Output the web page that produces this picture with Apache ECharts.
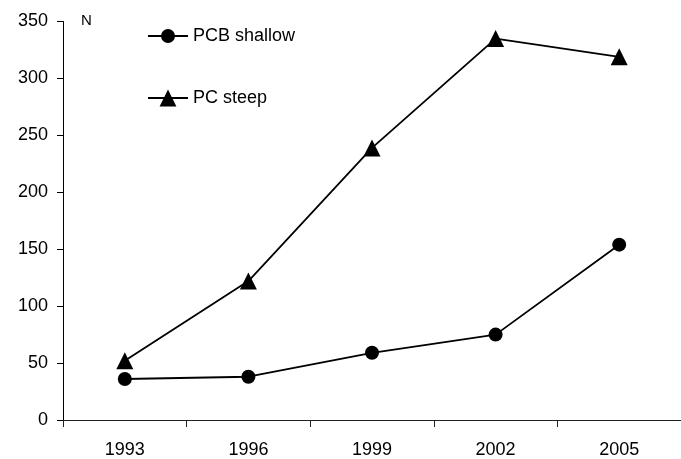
<!DOCTYPE html>
<html><head><meta charset="utf-8">
<script src="https://cdn.jsdelivr.net/npm/echarts@6/dist/echarts.min.js"></script>
<style>html,body{margin:0;padding:0;background:#fff}#c{width:681px;height:459px}</style>
</head><body><div id="c"></div>
<script>
const years = ['1993','1996','1999','2002','2005'];
const pcbShallow = [36, 38, 59, 75, 154];
const pcSteep = [52, 122, 239, 335, 319];
const yTicks = {min: 0, max: 350, interval: 50};

const chart = echarts.init(document.getElementById('c'), null, {renderer: 'canvas'});
const font = 'Arial, "Liberation Sans", sans-serif';
const legendText = {fontFamily: font, fontSize: 18, color: '#000'};
chart.setOption({
  animation: false,
  backgroundColor: '#fff',
  grid: {left: 63, right: -8, top: 21.5, bottom: 37.5, containLabel: false},
  legend: [
    {orient: 'vertical', left: 147, top: 27, padding: 0, itemWidth: 40, itemHeight: 17.5,
     textStyle: legendText, data: ['PCB shallow']},
    {orient: 'vertical', left: 147, top: 89, padding: 0, itemWidth: 40, itemHeight: 21,
     textStyle: legendText, data: ['PC steep']}
  ],
  xAxis: {
    type: 'category', data: years, boundaryGap: true,
    axisLine: {lineStyle: {color: '#222', width: 1}},
    axisTick: {show: true, length: 7, inside: false, lineStyle: {color: '#222'}},
    axisLabel: {fontFamily: font, fontSize: 18, color: '#000', margin: 21}
  },
  yAxis: {
    type: 'value', min: yTicks.min, max: yTicks.max, interval: yTicks.interval,
    name: 'N', nameLocation: 'end', nameGap: 1,
    nameTextStyle: {fontFamily: font, fontSize: 15, color: '#000', align: 'left', verticalAlign: 'middle', padding: [0,0,0,18]},
    splitLine: {show: false},
    axisLine: {show: true, lineStyle: {color: '#000', width: 1}},
    axisTick: {show: true, length: 6, lineStyle: {color: '#000'}},
    axisLabel: {fontFamily: font, fontSize: 18, color: '#000', margin: 15}
  },
  series: [
    {name: 'PCB shallow', type: 'line', data: pcbShallow, symbol: 'circle', symbolSize: 14,
     lineStyle: {color: '#000', width: 1.8}, itemStyle: {color: '#000'}},
    {name: 'PC steep', type: 'line', data: pcSteep, symbol: 'triangle', symbolSize: 17,
     lineStyle: {color: '#000', width: 1.8}, itemStyle: {color: '#000'}}
  ]
});
</script></body></html>
